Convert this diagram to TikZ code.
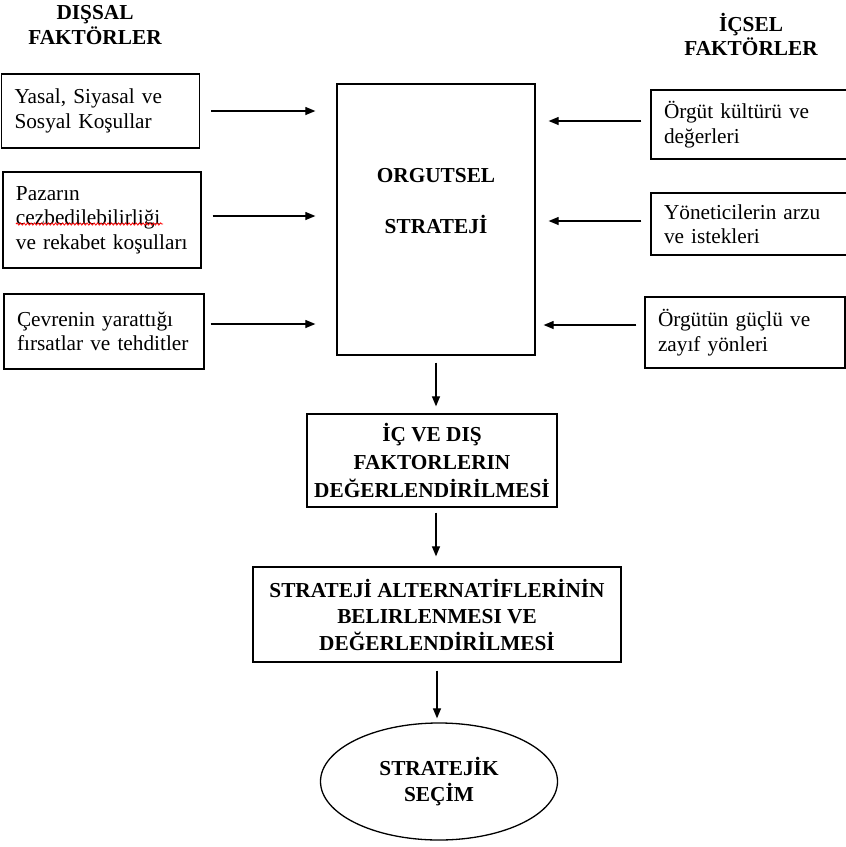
\documentclass[tikz,border=0pt]{standalone}
\usepackage{fontspec}
\setmainfont{Liberation Serif}
\usetikzlibrary{arrows.meta,positioning,calc,shapes.geometric,decorations.pathmorphing}

\tikzset{
  box/.style={draw, line width=1.3pt, inner sep=0pt},
  sidebox/.style={box, align=left, inner xsep=13pt, text width=#1},
  headtxt/.style={font=\bfseries, align=center, inner sep=0pt},
  arr/.style={-{Triangle[length=10pt,width=8pt]}, line width=1.2pt},
}

\begin{document}
\fontsize{21.3}{24.5}\selectfont
\begin{tikzpicture}[x=1pt,y=-1pt]
  \useasboundingbox (0,0) rectangle (846,847);
  % column headings
  \node[headtxt] (dishead) at (95,25) {DIŞSAL\\FAKTÖRLER};
  \node[headtxt] (ichead) at (751,34.5) {İÇSEL\\FAKTÖRLER};
  % external factors
  \node[sidebox=172pt, minimum height=74pt] (yasal) at (100.5,111) {Yasal, Siyasal ve\\Sosyal Koşullar};
  \node[sidebox=172pt, minimum height=96pt] (pazar) at (102,220) {Pazarın\\cezbedilebilirliği\\ve rekabet koşulları};
  \node[sidebox=174pt, minimum height=75pt] (cevre) at (104,331.5) {Çevrenin yarattığı\\fırsatlar ve tehditler};
  \draw[red, line width=0.8pt, decorate, decoration={snake, amplitude=1.1pt, segment length=3.5pt}] (16,224) -- (163,224);
  % internal factors
  \node[sidebox=174pt, minimum height=69pt] (kultur) at (751,124.5) {Örgüt kültürü ve\\değerleri};
  \node[sidebox=174pt, minimum height=62pt] (yonetici) at (751,224) {Yöneticilerin arzu\\ve istekleri};
  \node[sidebox=174pt, minimum height=71pt] (guclu) at (745,332.5) {Örgütün güçlü ve\\zayıf yönleri};
  % strategy box
  \node[box, minimum width=198pt, minimum height=271pt] (strat) at (436,219.5) {};
  \node[headtxt] (strattxt) at (436,201.5) {ORGUTSEL\\[26.5pt]STRATEJİ};
  % process steps
  \node[box, font=\bfseries, align=center, minimum width=250pt, minimum height=93pt] (degerlen) at (432,460.5) {İÇ VE DIŞ\\[3.5pt]FAKTORLERIN\\[3.5pt]DEĞERLENDİRİLMESİ};
  \node[box, font=\bfseries, align=center, minimum width=368pt, minimum height=95pt] (alter) at (437,614.5) {STRATEJİ ALTERNATİFLERİNİN\\[2pt]BELIRLENMESI VE\\[2pt]DEĞERLENDİRİLMESİ};
  \node[ellipse, draw, line width=1.3pt, font=\bfseries, align=center, inner sep=0pt, minimum width=237pt, minimum height=117pt] (secim) at (439,781.5) {STRATEJİK\\[1.5pt]SEÇİM};
  % arrows into the strategy
  \draw[arr, shorten <=11pt, shorten >=21pt] (yasal.east) -- (yasal.east -| strat.west);
  \draw[arr, shorten <=11pt, shorten >=21pt] ([yshift=4pt]pazar.east) -- ([yshift=4pt]pazar.east -| strat.west);
  \draw[arr, shorten <=6pt, shorten >=21pt] ([yshift=7.5pt]cevre.east) -- ([yshift=7.5pt]cevre.east -| strat.west);
  \draw[arr, shorten <=9pt, shorten >=13pt] ([yshift=3.5pt]kultur.west) -- ([yshift=3.5pt]kultur.west -| strat.east);
  \draw[arr, shorten <=9pt, shorten >=13pt] ([yshift=3pt]yonetici.west) -- ([yshift=3pt]yonetici.west -| strat.east);
  \draw[arr, shorten <=8pt, shorten >=8pt] ([yshift=7.5pt]guclu.west) -- ([yshift=7.5pt]guclu.west -| strat.east);
  % downward flow
  \draw[arr, shorten <=7pt, shorten >=7pt] (strat.south) -- (strat.south |- degerlen.north);
  \draw[arr, shorten <=5pt, shorten >=10pt] (strat.south |- degerlen.south) -- (strat.south |- alter.north);
  \draw[arr, shorten <=8pt, shorten >=4pt] (alter.south) -- (alter.south |- secim.north);
\end{tikzpicture}
\end{document}
